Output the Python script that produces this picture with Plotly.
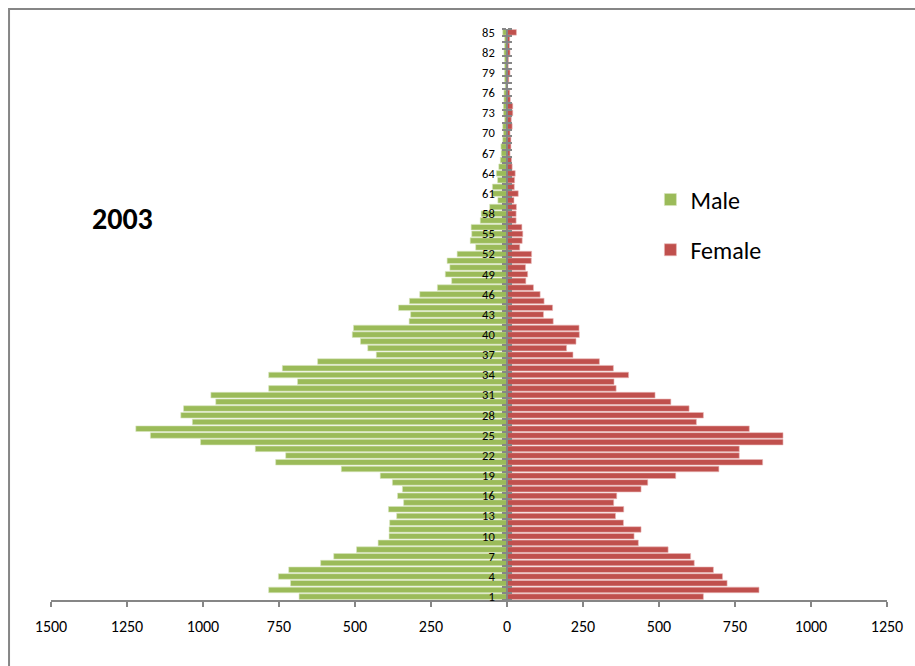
import plotly.graph_objects as go

ages = list(range(1, 86))

male = [684, 784, 712, 752, 718, 613, 570, 495, 424, 388,
        388, 386, 363, 390, 340, 360, 344, 377, 417, 545,
        761, 728, 828, 1008, 1173, 1221, 1035, 1073, 1064, 958,
        974, 784, 689, 784, 739, 623, 430, 458, 482, 509,
        505, 322, 317, 357, 321, 287, 229, 182, 203, 188,
        197, 164, 103, 121, 116, 118, 88, 85, 57, 30,
        49, 48, 31, 35, 27, 22, 19, 20, 14, 12,
        14, 8, 12, 12, 10, 10, 6, 8, 8, 8,
        8, 10, 8, 8, 14]

female = [646, 829, 724, 709, 679, 616, 604, 530, 432, 418,
          441, 383, 357, 384, 351, 361, 441, 463, 555, 697,
          841, 764, 764, 908, 908, 797, 623, 646, 599, 539,
          487, 359, 352, 400, 350, 304, 217, 196, 227, 238,
          237, 152, 120, 150, 122, 109, 87, 62, 68, 61,
          80, 81, 42, 50, 52, 49, 30, 30, 31, 23,
          37, 24, 25, 27, 17, 15, 10, 13, 13, 10,
          17, 14, 19, 19, 11, 9, 2, 6, 10, 4,
          5, 10, 8, 9, 31]

x_tickvals = [-1500, -1250, -1000, -750, -500, -250, 0, 250, 500, 750, 1000, 1250]
x_ticktext = ["1500", "1250", "1000", "750", "500", "250", "0", "250", "500", "750", "1000", "1250"]

title_text = "2003"

GREEN = "#9BBB59"
RED = "#C0504D"
AXIS = "#868686"
FONT = "Carlito, Lato, 'Liberation Sans', sans-serif"

fig = go.Figure()
fig.add_trace(go.Bar(
    y=ages, x=[-v for v in male], orientation="h", name="Male",
    marker=dict(color=GREEN, line=dict(color="#d9e6c0", width=0.6)),
    legendgroup="m",
))
fig.add_trace(go.Bar(
    y=ages, x=female, orientation="h", name="Female",
    marker=dict(color=RED, line=dict(color="#eab9b8", width=0.6)),
    legendgroup="f",
))
# invisible trace to carry the second y axis (inner half of cross ticks)
fig.add_trace(go.Scatter(x=[0], y=[1], yaxis="y2", mode="markers",
                         marker=dict(opacity=0), showlegend=False, hoverinfo="skip"))

zero_pos = 1500 / 2750

fig.update_layout(
    width=915, height=666,
    margin=dict(l=51, r=28, t=29, b=66),
    paper_bgcolor="white", plot_bgcolor="white",
    barmode="relative", bargap=0.17,
    font=dict(family=FONT, color="black"),
    showlegend=True,
    legend=dict(
        x=0.717, y=0.74, xanchor="left", yanchor="top",
        font=dict(size=24, family=FONT, color="black"),
        traceorder="grouped", tracegroupgap=16,
        bgcolor="rgba(0,0,0,0)",
    ),
    xaxis=dict(
        range=[-1500, 1250], tickvals=x_tickvals, ticktext=x_ticktext,
        showgrid=False, zeroline=False, showline=True, linecolor=AXIS, linewidth=1.5,
        ticks="outside", ticklen=5, tickcolor=AXIS, tickwidth=1.5,
        ticklabelstandoff=6,
        tickfont=dict(size=16, family=FONT, color="black"),
        domain=[0, 1],
    ),
    yaxis=dict(
        range=[0.5, 85.5], tickmode="linear", tick0=1, dtick=3,
        anchor="free", position=zero_pos, side="left",
        showgrid=False, zeroline=False, showline=True, linecolor=AXIS, linewidth=1.5,
        ticks="", ticklabelstandoff=9,
        minor=dict(tick0=0.5, dtick=1, ticks="outside", ticklen=4, tickcolor=AXIS, tickwidth=1.5, showgrid=False),
        tickfont=dict(size=12.5, family=FONT, color="black"),
    ),
    yaxis2=dict(
        range=[0.5, 85.5], overlaying="y", anchor="free", position=zero_pos, side="right",
        showgrid=False, zeroline=False, showline=False, showticklabels=False,
        tickmode="linear", tick0=1, dtick=3, ticks="",
        minor=dict(tick0=0.5, dtick=1, ticks="outside", ticklen=4, tickcolor=AXIS, tickwidth=1.5, showgrid=False),
    ),
    annotations=[dict(
        text="<b>" + title_text + "</b>", x=0.085, y=0.669, xref="paper", yref="paper",
        xanchor="center", yanchor="middle", showarrow=False,
        font=dict(size=30, family=FONT, color="black"),
    )],
    shapes=[dict(
        type="rect", xref="paper", yref="paper",
        x0=-0.0502, x1=1.2, y0=-0.3, y1=1.035,
        line=dict(color=AXIS, width=2), fillcolor="rgba(0,0,0,0)", layer="below",
    )],
)

fig.write_html("out.html")
